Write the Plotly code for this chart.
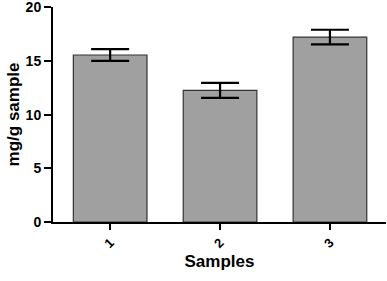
import plotly.graph_objects as go

categories = ["1", "2", "3"]
values = [15.55, 12.25, 17.22]
errors = [0.55, 0.7, 0.68]
y_ticks = [0, 5, 10, 15, 20]

fig = go.Figure()
fig.add_trace(go.Bar(
    x=[0, 1, 2], y=values, width=0.67,
    marker=dict(color="#a0a0a0", line=dict(color="#333333", width=1.2)),
    error_y=dict(type="data", array=errors, visible=True, color="black", thickness=2.2, width=19),
))
fam = "Liberation Sans, Arial"
fig.update_layout(
    width=387, height=281,
    margin=dict(l=53, r=1, t=7, b=59),
    plot_bgcolor="white", paper_bgcolor="white",
    showlegend=False,
    font=dict(family=fam, size=14, color="black"),
    xaxis=dict(
        range=[-0.52, 2.51], tickvals=[0, 1, 2], ticktext=categories,
        tickangle=-45, ticks="outside", ticklen=6, tickwidth=2, tickcolor="black",
        showline=True, linecolor="black", linewidth=2, showgrid=False, zeroline=False,
        automargin=False, ticklabeloverflow="allow",
        tickfont=dict(family=fam, size=13, color="black", weight="bold"),
        title=dict(text="<b>Samples</b>", font=dict(family=fam, size=17, color="black"), standoff=5),
    ),
    yaxis=dict(
        range=[0, 20.02], tickvals=y_ticks, ticks="outside", ticklen=7, tickwidth=2, tickcolor="black",
        showline=True, linecolor="black", linewidth=2, showgrid=False, zeroline=False,
        automargin=False, ticklabeloverflow="allow",
        tickfont=dict(family=fam, size=14, color="black", weight="bold"),
        title=dict(text="<b>mg/g sample</b>", font=dict(family=fam, size=17, color="black"), standoff=2),
    ),
)
fig.write_html(
    "out.html",
    config={"displayModeBar": False},
    post_script="document.body.style.margin='0';document.body.style.overflow='hidden';",
)
